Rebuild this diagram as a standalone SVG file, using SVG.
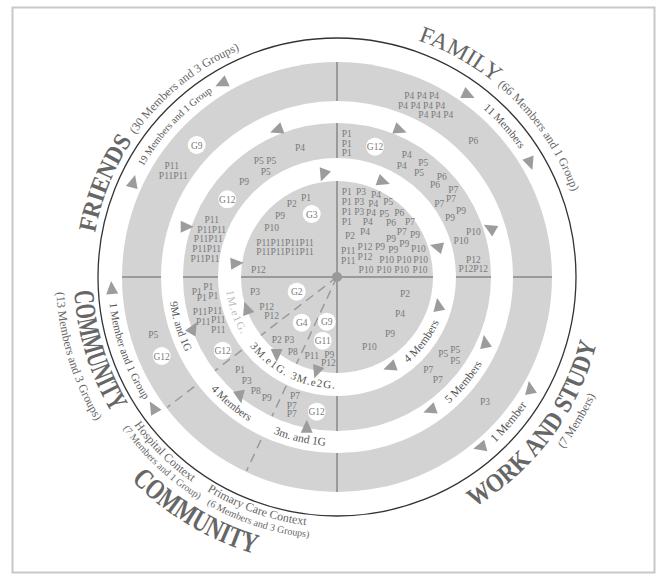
<svg xmlns="http://www.w3.org/2000/svg" xmlns:xlink="http://www.w3.org/1999/xlink" width="665" height="580" viewBox="0 0 665 580">
<style>
.lb{font-family:"Liberation Serif",serif;font-size:9.5px;fill:#7a7a7a;text-anchor:middle}
.gc{fill:#fff}
.band{font-family:"Liberation Serif",serif;fill:#555;text-anchor:middle}
.big{font-family:"Liberation Serif",serif;font-weight:bold;fill:#666;text-anchor:middle}
.reg{font-family:"Liberation Serif",serif;fill:#666;text-anchor:middle}
.arr{fill:#9c9c9c}
.div{stroke:#9a9a9a;stroke-width:2;fill:none}
.dash{stroke:#9a9a9a;stroke-width:1.5;stroke-dasharray:9 6;fill:none}
</style>
<defs>
<path id="tri" d="M7,0 L-6,-6 L-6,6 Z"/>
<path id="pFriends" d="M103.03,353.01 A246,246 0 0 1 221.5,59.8"/>
<path id="pFriendsP" d="M94.54,229.87 A247,247 0 0 1 341.31,30.04"/>
<path id="pFamily" d="M289.3,31.6 A250,250 0 0 1 570.4,187.4"/>
<path id="pFamilyP" d="M401.7,35.5 A250,250 0 0 1 586.05,298.8"/>
<path id="pComL" d="M94.9,174.2 A263,263 0 0 0 193.8,497.6"/>
<path id="pComLP" d="M78.3,167.2 A281,281 0 0 0 184,512.7"/>
<path id="pComB" d="M63.7,371.1 A289,289 0 0 0 382.2,562.4"/>
<path id="pWork" d="M398.2,537.9 A268,268 0 0 0 604.6,262"/>
<path id="pWorkP" d="M429.9,545.4 A284,284 0 0 0 617.4,232.1"/>
<path id="pHosp" d="M87.1,300.6 A251,251 0 0 0 316.9,527.2"/>
<path id="pHospP" d="M76.8,307.6 A262,262 0 0 0 321.9,538.6"/>
<path id="pPrim" d="M122.2,405 A250,250 0 0 0 425.8,510.7"/>
<path id="pPrimP" d="M114.8,415.8 A262,262 0 0 0 435.1,519.9"/>
<path id="b1" d="M114.3,265.7 A223,223 0 0 1 309.4,55.7"/>
<path id="b2" d="M368,56.2 A223,223 0 0 1 559.9,269.2"/>
<path id="b3" d="M124.1,192.7 A229,229 0 0 0 217,472"/>
<path id="b4" d="M376,502.7 A229,229 0 0 0 566,277.8"/>
<path id="m1" d="M180.9,212.3 A169,169 0 0 0 246.2,419.5"/>
<path id="m2" d="M170.6,306.6 A169,169 0 0 0 337.3,446"/>
<path id="m3" d="M202,378.7 A169,169 0 0 0 413.7,427.6"/>
<path id="m4" d="M367.2,443.3 A169,169 0 0 0 506,276.1"/>
<path id="i1" d="M323,387.6 A111.5,111.5 0 0 0 439.8,233.8"/>
<path id="i2" d="M227,259 A111.5,111.5 0 0 0 376.4,381.3"/>
<path id="i3" d="M230.5,310.2 A111.5,111.5 0 0 0 418.9,352.6"/>
<path id="i4" d="M252.5,204.3 A111.5,111.5 0 0 0 316.3,386.6"/>
</defs>
<rect x="12.5" y="7.5" width="642" height="565" fill="#fff" stroke="#c8c8c8" stroke-width="2"/>

<g id="rings">
<circle cx="337" cy="277" r="215" fill="#d3d3d3"/>
</g>

<g id="connectors">
<line class="div" x1="337" y1="62" x2="337" y2="492"/>
<line class="div" x1="122" y1="277" x2="552" y2="277"/>
<line class="dash" x1="337" y1="277" x2="167.3" y2="407.3"/>
<line class="dash" x1="337" y1="277" x2="246.5" y2="470.9"/>
<circle cx="337" cy="277" r="107.5" fill="none" stroke="#fff" stroke-width="23"/>
<circle cx="337" cy="277" r="165" fill="none" stroke="#fff" stroke-width="22"/>
<circle cx="337" cy="277" r="5" fill="#999"/>
<circle cx="337" cy="277" r="239" fill="none" stroke="#333" stroke-width="1.3"/>
<g class="arr">
<use href="#tri" transform="translate(221.7,83.3) rotate(155)"/>
<use href="#tri" transform="translate(133.3,181.7) rotate(-75)"/>
<use href="#tri" transform="translate(276.7,130) rotate(160)"/>
<use href="#tri" transform="translate(186.7,226.7) rotate(0)"/>
<use href="#tri" transform="translate(323.3,175) rotate(110)"/>
<use href="#tri" transform="translate(236.7,263.3) rotate(-5)"/>
<use href="#tri" transform="translate(468.3,95) rotate(25)"/>
<use href="#tri" transform="translate(530,163.3) rotate(70)"/>
<use href="#tri" transform="translate(400,130) rotate(20)"/>
<use href="#tri" transform="translate(383.3,181.7) rotate(20)"/>
<use href="#tri" transform="translate(490,228.3) rotate(-150)"/>
<use href="#tri" transform="translate(436.7,246.7) rotate(-165)"/>
<use href="#tri" transform="translate(438.3,305) rotate(-100)"/>
<use href="#tri" transform="translate(485,342) rotate(-100)"/>
<use href="#tri" transform="translate(390,367) rotate(160)"/>
<use href="#tri" transform="translate(430,410) rotate(160)"/>
<use href="#tri" transform="translate(530,388) rotate(-100)"/>
<use href="#tri" transform="translate(480,447) rotate(165)"/>
<use href="#tri" transform="translate(111.7,288) rotate(-95)"/>
<use href="#tri" transform="translate(153.3,407.5) rotate(-120)"/>
<use href="#tri" transform="translate(193.3,328.3) rotate(-60)"/>
<use href="#tri" transform="translate(240,396.7) rotate(80)"/>
<use href="#tri" transform="translate(246.7,308.3) rotate(-110)"/>
<use href="#tri" transform="translate(276.7,355) rotate(90)"/>
<use href="#tri" transform="translate(316.7,371.7) rotate(110)"/>
<use href="#tri" transform="translate(306.7,426.7) rotate(-90)"/>
</g>
</g>

<g id="sector-friends">
<text class="big" font-size="25"><textPath href="#pFriends" startOffset="50%" textLength="100" lengthAdjust="spacingAndGlyphs">FRIENDS</textPath></text>
<text class="reg" font-size="12"><textPath href="#pFriendsP" startOffset="50%">(30 Members and 3 Groups)</textPath></text>
<text class="band" font-size="10"><textPath href="#b1" startOffset="50%">19 Members and 1 Group</textPath></text>
<text class="lb" x="171.7" y="169">P11</text>
<text class="lb" x="173.3" y="179">P11P11</text>
<circle class="gc" cx="196.7" cy="145" r="9"/><text class="lb" x="196.7" y="148.5">G9</text>
<text class="lb" x="300" y="151">P4</text>
<text class="lb" x="265" y="164">P5 P5</text>
<text class="lb" x="265.7" y="174.5">P5</text>
<text class="lb" x="244" y="185">P9</text>
<circle class="gc" cx="227.3" cy="199.3" r="9"/><text class="lb" x="227.3" y="202.8">G12</text>
<text class="lb" x="211.7" y="223">P11</text>
<text class="lb" x="211.7" y="233">P11P11</text>
<text class="lb" x="208.3" y="242">P11P11</text>
<text class="lb" x="206.7" y="252">P11P11</text>
<text class="lb" x="205" y="262">P11P11</text>
<text class="lb" x="306" y="201">P1</text>
<text class="lb" x="291.7" y="207">P2</text>
<circle class="gc" cx="311.7" cy="214" r="9"/><text class="lb" x="311.7" y="217.5">G3</text>
<text class="lb" x="280" y="218.5">P9</text>
<text class="lb" x="271.7" y="231">P10</text>
<text class="lb" x="285" y="246">P11P11P11P11</text>
<text class="lb" x="285" y="255">P11P11P11P11</text>
<text class="lb" x="258.3" y="272.5">P12</text>
</g>

<g id="sector-family">
<text class="reg" font-size="23"><textPath href="#pFamily" startOffset="50%" textLength="88" lengthAdjust="spacingAndGlyphs">FAMILY</textPath></text>
<text class="reg" font-size="12"><textPath href="#pFamilyP" startOffset="50%">(66 Members and 1 Group)</textPath></text>
<text class="band" font-size="11"><textPath href="#b2" startOffset="50%">11 Members</textPath></text>
<text class="lb" x="421.7" y="98.5">P4 P4 P4</text>
<text class="lb" x="421.7" y="108.5">P4 P4 P4 P4</text>
<text class="lb" x="435.8" y="117.5">P4 P4 P4</text>
<text class="lb" x="473.3" y="143.5">P6</text>
<text class="lb" x="346.7" y="137">P1</text>
<text class="lb" x="346.7" y="147">P1</text>
<text class="lb" x="346.7" y="156">P1</text>
<circle class="gc" cx="375" cy="146.7" r="9"/><text class="lb" x="375" y="150.2">G12</text>
<text class="lb" x="406.7" y="157.5">P4</text>
<text class="lb" x="401.7" y="169">P4</text>
<text class="lb" x="423.3" y="166">P5</text>
<text class="lb" x="419" y="176">P5</text>
<text class="lb" x="441.7" y="180">P6</text>
<text class="lb" x="435" y="188">P6</text>
<text class="lb" x="453.3" y="193">P7</text>
<text class="lb" x="451" y="201.5">P7</text>
<text class="lb" x="439.3" y="207">P7</text>
<text class="lb" x="461" y="213.5">P9</text>
<text class="lb" x="450" y="221">P9</text>
<text class="lb" x="473.3" y="235">P10</text>
<text class="lb" x="461" y="244">P10</text>
<text class="lb" x="473.3" y="262.5">P12</text>
<text class="lb" x="473.3" y="272">P12P12</text>
<text class="lb" x="346.7" y="195">P1</text>
<text class="lb" x="361" y="195">P3</text>
<text class="lb" x="376" y="198">P4</text>
<text class="lb" x="346.7" y="205">P1</text>
<text class="lb" x="359.3" y="205">P3</text>
<text class="lb" x="373.3" y="207">P4</text>
<text class="lb" x="388.3" y="205">P5</text>
<text class="lb" x="346.7" y="215">P1</text>
<text class="lb" x="359.3" y="215">P3</text>
<text class="lb" x="371" y="216">P4</text>
<text class="lb" x="384.3" y="217">P5</text>
<text class="lb" x="399.3" y="215.5">P6</text>
<text class="lb" x="346.7" y="224.5">P1</text>
<text class="lb" x="367.7" y="225">P4</text>
<text class="lb" x="391" y="226">P6</text>
<text class="lb" x="410" y="225">P7</text>
<text class="lb" x="350" y="238.5">P2</text>
<text class="lb" x="365" y="235">P4</text>
<text class="lb" x="401.7" y="235">P7</text>
<text class="lb" x="415" y="238">P9</text>
<text class="lb" x="391" y="242">P9</text>
<text class="lb" x="404.3" y="247">P9</text>
<text class="lb" x="380" y="250">P9</text>
<text class="lb" x="393.3" y="252.5">P9</text>
<text class="lb" x="418.3" y="252">P10</text>
<text class="lb" x="348.3" y="253.5">P11</text>
<text class="lb" x="365" y="250">P12</text>
<text class="lb" x="348.3" y="264">P11</text>
<text class="lb" x="365" y="260">P12</text>
<text class="lb" x="386.7" y="263">P10</text>
<text class="lb" x="404" y="263">P10</text>
<text class="lb" x="420.7" y="263">P10</text>
<text class="lb" x="366" y="272.5">P10</text>
<text class="lb" x="384" y="272.5">P10</text>
<text class="lb" x="401.7" y="272.5">P10</text>
<text class="lb" x="420" y="272.5">P10</text>
</g>

<g id="sector-work">
<text class="big" font-size="26"><textPath href="#pWork" startOffset="50%" textLength="210" lengthAdjust="spacingAndGlyphs">WORK AND STUDY</textPath></text>
<text class="reg" font-size="12"><textPath href="#pWorkP" startOffset="50%">(7 Members)</textPath></text>
<text class="band" font-size="12"><textPath href="#b4" startOffset="50%">1 Member</textPath></text>
<text class="band" font-size="11.5"><textPath href="#m4" startOffset="50%">5 Members</textPath></text>
<text class="band" font-size="11.5"><textPath href="#i1" startOffset="50%">4 Members</textPath></text>
<text class="lb" x="405" y="296.8">P2</text>
<text class="lb" x="400" y="316.8">P4</text>
<text class="lb" x="390" y="336.8">P9</text>
<text class="lb" x="369.3" y="350.2">P10</text>
<text class="lb" x="443.3" y="356.8">P5</text>
<text class="lb" x="455.3" y="352.8">P5</text>
<text class="lb" x="455.3" y="364.2">P5</text>
<text class="lb" x="428.3" y="372.8">P7</text>
<text class="lb" x="437.7" y="382.8">P7</text>
<text class="lb" x="485" y="405.2">P3</text>
</g>

<g id="sector-community">
<text class="big" font-size="29"><textPath href="#pComL" startOffset="50%" textLength="128" lengthAdjust="spacingAndGlyphs">COMMUNITY</textPath></text>
<text class="reg" font-size="12"><textPath href="#pComLP" startOffset="50%">(13 Members and 3 Groups)</textPath></text>
<text class="big" font-size="29"><textPath href="#pComB" startOffset="50%" textLength="145" lengthAdjust="spacingAndGlyphs">COMMUNITY</textPath></text>
<text class="reg" font-size="12"><textPath href="#pHosp" startOffset="50%">Hospital Context</textPath></text>
<text class="reg" font-size="10"><textPath href="#pHospP" startOffset="50%">(7 Members and 1 Group)</textPath></text>
<text class="reg" font-size="12"><textPath href="#pPrim" startOffset="50%">Primary Care Context</textPath></text>
<text class="reg" font-size="10"><textPath href="#pPrimP" startOffset="50%">(6 Members and 3 Groups)</textPath></text>
<text class="band" font-size="11"><textPath href="#b3" startOffset="51.4%">1 Member and 1 Group</textPath></text>
<text class="band" font-size="11"><textPath href="#m1" startOffset="50%">9M. and 1G</textPath></text>
<text class="band" font-size="11"><textPath href="#m2" startOffset="50%">4 Members</textPath></text>
<text class="band" font-size="11.5"><textPath href="#m3" startOffset="50%">3m. and 1G</textPath></text>
<text class="band" font-size="11" letter-spacing="1.2"><textPath href="#i2" startOffset="50%">3M.e1G.</textPath></text>
<text class="band" font-size="11" letter-spacing="1.2"><textPath href="#i3" startOffset="50%">3M.e2G.</textPath></text>
<text class="band" font-size="11" letter-spacing="1.2" style="fill:#bdbdbd"><textPath href="#i4" startOffset="50%">1M.e1G.</textPath></text>
<text class="lb" x="153.3" y="337.8">P5</text>
<circle class="gc" cx="161.7" cy="356" r="9"/><text class="lb" x="161.7" y="359.5">G12</text>
<text class="lb" x="208.3" y="290.2">P1</text>
<text class="lb" x="196.7" y="294.5">P1</text>
<text class="lb" x="201.7" y="300.8">P1</text>
<text class="lb" x="213.3" y="298.5">P1</text>
<text class="lb" x="200" y="314.5">P11</text>
<text class="lb" x="215" y="313.5">P11</text>
<text class="lb" x="203.3" y="324.5">P11</text>
<text class="lb" x="218.3" y="322.8">P11</text>
<text class="lb" x="218.3" y="332.8">P11</text>
<circle class="gc" cx="222.7" cy="350.7" r="9"/><text class="lb" x="222.7" y="354.2">G12</text>
<text class="lb" x="240" y="372.8">P1</text>
<text class="lb" x="246.7" y="383.5">P3</text>
<text class="lb" x="255.7" y="393.5">P8</text>
<text class="lb" x="266.7" y="401.2">P9</text>
<text class="lb" x="295" y="398.5">P7</text>
<text class="lb" x="291.7" y="408.5">P7</text>
<text class="lb" x="291.7" y="416.8">P7</text>
<circle class="gc" cx="316.7" cy="411.7" r="9"/><text class="lb" x="316.7" y="415.2">G12</text>
<text class="lb" x="255" y="295.2">P3</text>
<circle class="gc" cx="296.7" cy="291.7" r="9"/><text class="lb" x="296.7" y="295.2">G2</text>
<text class="lb" x="266.7" y="309.5">P12</text>
<text class="lb" x="271.7" y="318.5">P12</text>
<circle class="gc" cx="301.7" cy="322.7" r="9"/><text class="lb" x="301.7" y="326.2">G4</text>
<circle class="gc" cx="326.7" cy="321.7" r="9"/><text class="lb" x="326.7" y="325.2">G9</text>
<text class="lb" x="276.7" y="342.8">P2</text>
<text class="lb" x="289.3" y="342.8">P3</text>
<circle class="gc" cx="322.7" cy="340.7" r="9"/><text class="lb" x="322.7" y="344.2">G11</text>
<text class="lb" x="292.7" y="354.5">P8</text>
<text class="lb" x="311.7" y="358.5">P11</text>
<text class="lb" x="329.3" y="357.5">P9</text>
<text class="lb" x="328.3" y="366.2">P12</text>
</g>
</svg>
